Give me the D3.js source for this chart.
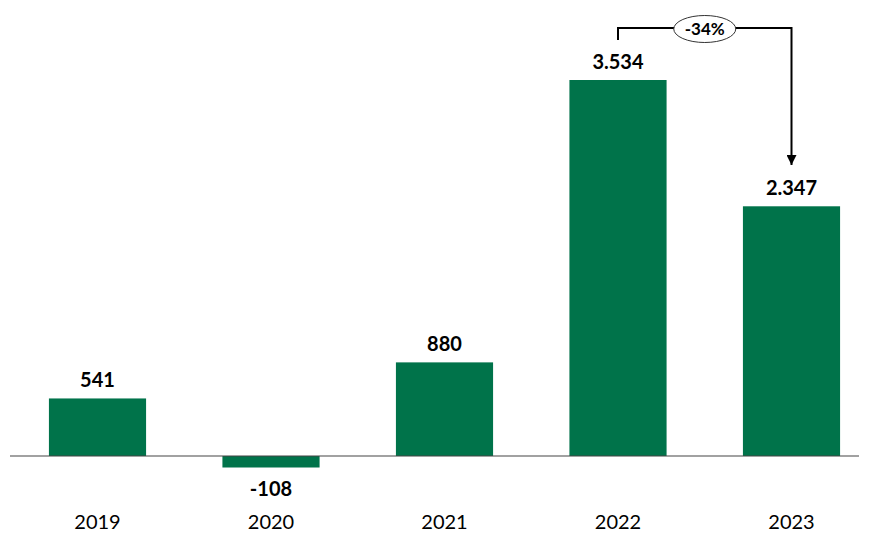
<!DOCTYPE html>
<html>
<head>
<meta charset="utf-8">
<script src="https://cdn.jsdelivr.net/npm/d3@7"></script>
<style>
  html, body { margin: 0; padding: 0; background: #fff; }
  svg { display: block; }
  text { font-family: Lato, "Open Sans", sans-serif; fill: #000; }
</style>
</head>
<body>
<svg id="chart" width="869" height="533"></svg>
<script>
// Yearly result (thousands)
const years = ["2019", "2020", "2021", "2022", "2023"];
const values = [541, -108, 880, 3534, 2347];
const valueLabels = ["541", "-108", "880", "3.534", "2.347"];
const changeLabel = "-34%";

const W = 869, H = 533;
const svg = d3.select("#chart");

const x = d3.scaleBand()
  .domain(years)
  .range([10.75, 878.25])
  .paddingInner(0.44)
  .paddingOuter(0.22);

const y = d3.scaleLinear()
  .domain([d3.min(values), d3.max(values)])
  .range([467.5, 80]);

const green = "#00734A";

// bars
svg.selectAll("rect.bar")
  .data(years)
  .join("rect")
  .attr("class", "bar")
  .attr("x", d => x(d))
  .attr("width", x.bandwidth())
  .attr("y", (d, i) => y(Math.max(0, values[i])))
  .attr("height", (d, i) => Math.abs(y(values[i]) - y(0)))
  .attr("fill", green);

// zero line
svg.append("line")
  .attr("x1", 10).attr("x2", 859)
  .attr("y1", y(0)).attr("y2", y(0))
  .attr("stroke", "#444").attr("stroke-width", 1.2);

// value labels
svg.selectAll("text.val")
  .data(years)
  .join("text")
  .attr("class", "val")
  .attr("x", d => x(d) + x.bandwidth() / 2)
  .attr("y", (d, i) => values[i] >= 0 ? y(values[i]) - 11 : y(values[i]) + 28)
  .attr("text-anchor", "middle")
  .attr("font-size", 20)
  .attr("font-weight", "bold")
  .attr("fill", "#111")
  .text((d, i) => valueLabels[i]);

// year axis labels
const xAxis = d3.axisBottom(x).tickSize(0).tickPadding(0);
const ax = svg.append("g")
  .attr("transform", `translate(0, 515)`)
  .call(xAxis);
ax.select(".domain").remove();
ax.selectAll("text")
  .attr("font-size", 20)
  .attr("font-family", "Lato, 'Open Sans', sans-serif")
  .attr("fill", "#1a1a1a");

// change bracket between the last two years
const cx1 = x("2022") + x.bandwidth() / 2;
const cx2 = x("2023") + x.bandwidth() / 2;
const topY = 28;
const arrowTip = 165;

const marker = svg.append("defs").append("marker")
  .attr("id", "arrowhead")
  .attr("viewBox", "0 0 10 10")
  .attr("refX", 10).attr("refY", 5)
  .attr("markerWidth", 11).attr("markerHeight", 10)
  .attr("markerUnits", "userSpaceOnUse")
  .attr("orient", "auto");
marker.append("path").attr("d", "M0,0 L10,5 L0,10 Z").attr("fill", "#000");

svg.append("path")
  .attr("d", `M${cx1},40 V${topY} H${cx2} V${arrowTip}`)
  .attr("fill", "none")
  .attr("stroke", "#000")
  .attr("stroke-width", 2)
  .attr("marker-end", "url(#arrowhead)");

const ex = (cx1 + cx2) / 2;
svg.append("ellipse")
  .attr("cx", ex).attr("cy", topY + 1)
  .attr("rx", 31).attr("ry", 13.5)
  .attr("fill", "#fff")
  .attr("stroke", "#333").attr("stroke-width", 1);

svg.append("text")
  .attr("x", ex).attr("y", topY + 7)
  .attr("text-anchor", "middle")
  .attr("font-size", 17)
  .attr("font-weight", "bold")
  .attr("fill", "#111")
  .text(changeLabel);
</script>
</body>
</html>
